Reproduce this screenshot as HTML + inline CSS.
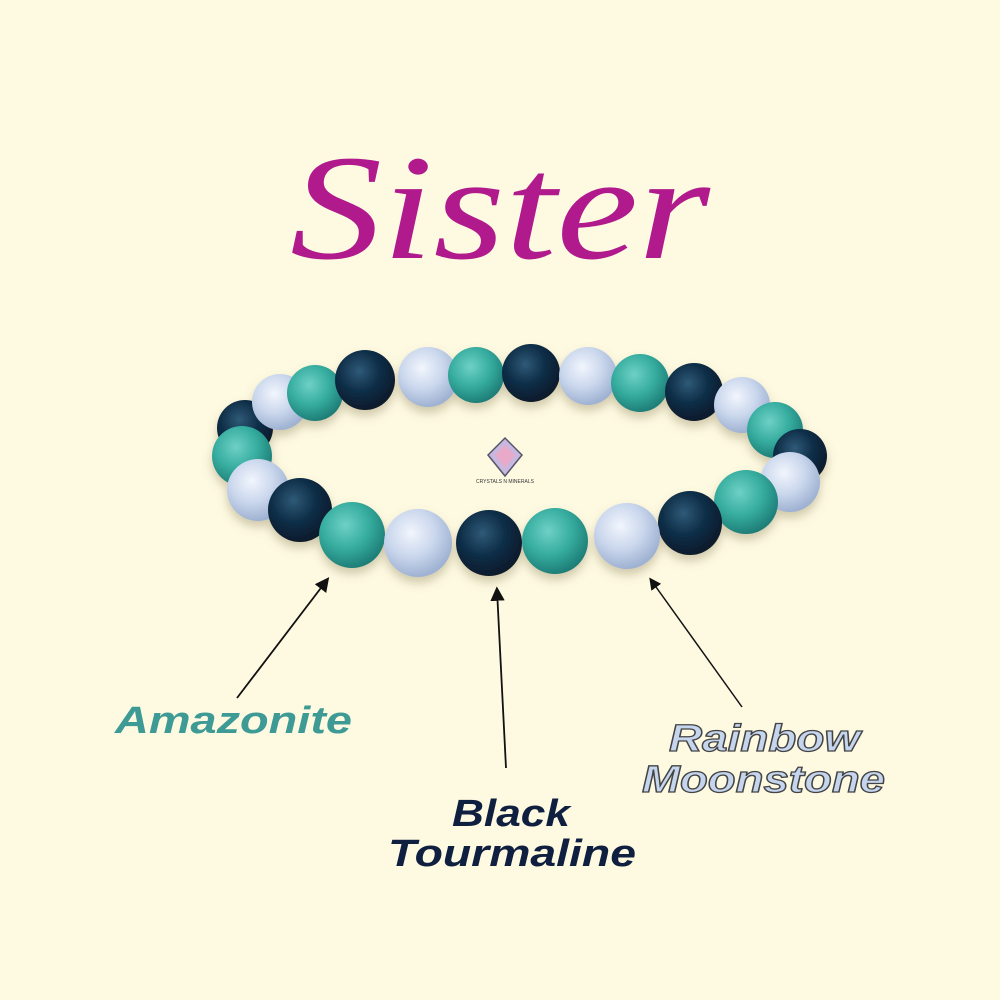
<!DOCTYPE html>
<html><head><meta charset="utf-8"><style>
html,body{margin:0;padding:0;background:#fefae2;}
svg{display:block}
</style></head><body>
<svg width="1000" height="1000" viewBox="0 0 1000 1000" xmlns="http://www.w3.org/2000/svg">
<defs>
<radialGradient id="d" cx="40%" cy="35%" r="65%"><stop offset="0" stop-color="#2f5a78"/><stop offset="0.5" stop-color="#10304a"/><stop offset="1" stop-color="#071a2b"/></radialGradient>
<radialGradient id="t" cx="40%" cy="35%" r="65%"><stop offset="0" stop-color="#6fd0c6"/><stop offset="0.55" stop-color="#36ad9f"/><stop offset="1" stop-color="#1f7f78"/></radialGradient>
<radialGradient id="l" cx="40%" cy="35%" r="65%"><stop offset="0" stop-color="#f2f6fd"/><stop offset="0.55" stop-color="#c9d6ec"/><stop offset="1" stop-color="#9fb2d2"/></radialGradient>
<filter id="sh" x="-20%" y="-20%" width="140%" height="160%"><feDropShadow dx="0" dy="6" stdDeviation="5" flood-color="#7a6a40" flood-opacity="0.35"/></filter>
<marker id="ah" markerWidth="8" markerHeight="8" refX="6" refY="4" orient="auto"><path d="M0,0 L8,4 L0,8 z" fill="#111"/></marker>
</defs>
<rect width="1000" height="1000" fill="#fefae2"/>
<text x="500" y="258" text-anchor="middle" font-family="Liberation Serif, serif" font-style="italic" font-size="150" fill="#b01a8c" textLength="420" lengthAdjust="spacingAndGlyphs">Sister</text>
<g filter="url(#sh)">
<circle cx="245" cy="428" r="28" fill="url(#d)"/>
<circle cx="280" cy="402" r="28" fill="url(#l)"/>
<circle cx="315" cy="393" r="28" fill="url(#t)"/>
<circle cx="365" cy="380" r="30" fill="url(#d)"/>
<circle cx="428" cy="377" r="30" fill="url(#l)"/>
<circle cx="476" cy="375" r="28" fill="url(#t)"/>
<circle cx="531" cy="373" r="29" fill="url(#d)"/>
<circle cx="588" cy="376" r="29" fill="url(#l)"/>
<circle cx="640" cy="383" r="29" fill="url(#t)"/>
<circle cx="694" cy="392" r="29" fill="url(#d)"/>
<circle cx="742" cy="405" r="28" fill="url(#l)"/>
<circle cx="775" cy="430" r="28" fill="url(#t)"/>
<circle cx="800" cy="456" r="27" fill="url(#d)"/>
<circle cx="242" cy="456" r="30" fill="url(#t)"/>
<circle cx="258" cy="490" r="31" fill="url(#l)"/>
<circle cx="300" cy="510" r="32" fill="url(#d)"/>
<circle cx="790" cy="482" r="30" fill="url(#l)"/>
<circle cx="746" cy="502" r="32" fill="url(#t)"/>
<circle cx="690" cy="523" r="32" fill="url(#d)"/>
<circle cx="352" cy="535" r="33" fill="url(#t)"/>
<circle cx="627" cy="536" r="33" fill="url(#l)"/>
<circle cx="418" cy="543" r="34" fill="url(#l)"/>
<circle cx="555" cy="541" r="33" fill="url(#t)"/>
<circle cx="489" cy="543" r="33" fill="url(#d)"/>
</g>
<polygon points="505,438 522,455 505,476 488,455" fill="#c8b8e0" stroke="#556" stroke-width="1.5"/>
<polygon points="505,445 515,455 505,468 495,455" fill="#e9a9c8"/>
<text x="505" y="483" text-anchor="middle" font-family="Liberation Sans, sans-serif" font-size="5" fill="#333">CRYSTALS N MINERALS</text>
<line x1="237" y1="698" x2="327" y2="580" stroke="#111" stroke-width="1.8" marker-end="url(#ah)"/>
<line x1="506" y1="768" x2="497" y2="590" stroke="#111" stroke-width="1.8" marker-end="url(#ah)"/>
<line x1="742" y1="707" x2="651" y2="580" stroke="#111" stroke-width="1.5" marker-end="url(#ah)"/>
<g font-family="Liberation Sans, sans-serif" font-weight="bold" font-style="italic" font-size="38">
<text x="115" y="733" fill="#3e9a95" textLength="237" lengthAdjust="spacingAndGlyphs">Amazonite</text>
<text x="452" y="826" fill="#0f1f3f" textLength="118" lengthAdjust="spacingAndGlyphs">Black</text>
<text x="388" y="866" fill="#0f1f3f" textLength="248" lengthAdjust="spacingAndGlyphs">Tourmaline</text>
<text x="669" y="751" fill="#c6d5ee" stroke="#444" stroke-width="1.3" textLength="191" lengthAdjust="spacingAndGlyphs">Rainbow</text>
<text x="642" y="792" fill="#c6d5ee" stroke="#444" stroke-width="1.3" textLength="243" lengthAdjust="spacingAndGlyphs">Moonstone</text>
</g>
</svg>
</body></html>
